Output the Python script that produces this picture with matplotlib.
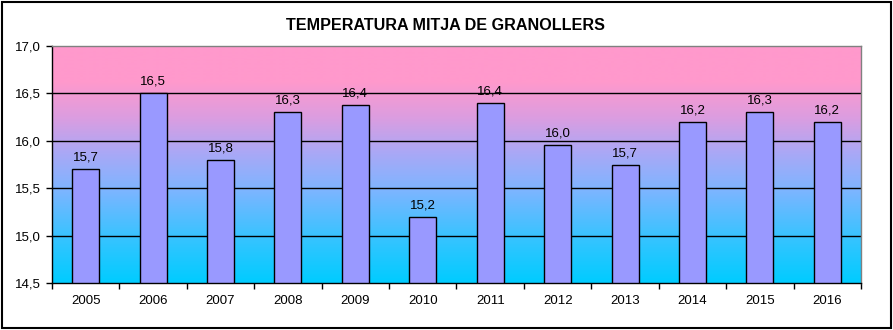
import numpy as np
import matplotlib
matplotlib.use("Agg")
import matplotlib.pyplot as plt
from matplotlib.colors import LinearSegmentedColormap
from matplotlib.patches import Rectangle

years = ["2005", "2006", "2007", "2008", "2009", "2010",
         "2011", "2012", "2013", "2014", "2015", "2016"]
temps = [15.7, 16.5, 15.8, 16.3, 16.38, 15.2, 16.4, 15.96, 15.74, 16.2, 16.3, 16.2]
yticks = [14.5, 15.0, 15.5, 16.0, 16.5, 17.0]
title = "TEMPERATURA MITJA DE GRANOLLERS"

plt.rcParams['font.family'] = ['Liberation Sans', 'DejaVu Sans']

W, H = 893, 330
fig = plt.figure(figsize=(W / 100, H / 100), dpi=100)
fig.patch.set_facecolor('white')

L, R, T, B = 52, 861, 46, 283
ax = fig.add_axes([L / W, 1 - B / H, (R - L) / W, (B - T) / H])

ymin, ymax = yticks[0], yticks[-1]
n = len(years)
x = np.arange(n)

# background gradient (cyan bottom -> lavender -> pink top)
cmap = LinearSegmentedColormap.from_list("bg", [
    (0.0, "#00CCFF"), (0.2, "#3AC3FF"), (0.4, "#80B4FF"),
    (0.55, "#AAA8F6"), (0.7, "#DC9DE0"), (0.85, "#FF99CC"), (1.0, "#FF99CC")])
grad = np.linspace(0, 1, 256).reshape(-1, 1)
ax.imshow(grad, cmap=cmap, aspect='auto', origin='lower',
          extent=[-0.5, n - 0.5, ymin, ymax], zorder=0, interpolation='bilinear')

for yv in yticks[1:-1]:
    ax.axhline(yv, color='black', lw=1.0, zorder=1)

ax.bar(x, temps, width=0.4, bottom=0, color='#9999FF', edgecolor='black',
       linewidth=1.0, zorder=2)

for xi, v in zip(x, temps):
    ax.annotate(f"{v:.1f}".replace('.', ','), (xi, v), xytext=(0, 4),
                textcoords='offset points', ha='center', va='bottom',
                fontsize=9.5, zorder=3)

ax.set_xlim(-0.5, n - 0.5)
ax.set_ylim(ymin, ymax)
ax.set_yticks(yticks)
ax.set_yticklabels([f"{v:.1f}".replace('.', ',') for v in yticks], fontsize=9.5)
ax.set_xticks(x)
ax.set_xticklabels(years, fontsize=9.5)
ax.tick_params(axis='x', length=0, pad=9)
ax.set_xticks(np.arange(-0.5, n, 1.0), minor=True)
ax.tick_params(axis='x', which='minor', length=4, width=1, direction='out', color='black')
ax.tick_params(axis='y', length=4, width=1, direction='out', pad=4)

for s in ['left', 'bottom']:
    ax.spines[s].set_color('black')
    ax.spines[s].set_linewidth(1.0)
for s in ['top', 'right']:
    ax.spines[s].set_color('#808080')
    ax.spines[s].set_linewidth(1.0)

fig.text(446 / W, 1 - 25 / H, title, ha='center', va='center',
         fontsize=11.6, fontweight='bold')

fig.patches.append(Rectangle((1.5 / W, 2 / H), 889.5 / W, 326.5 / H,
                             transform=fig.transFigure, fill=False,
                             edgecolor='black', linewidth=1.5))

fig.savefig("out.png", dpi=100, facecolor='white')
